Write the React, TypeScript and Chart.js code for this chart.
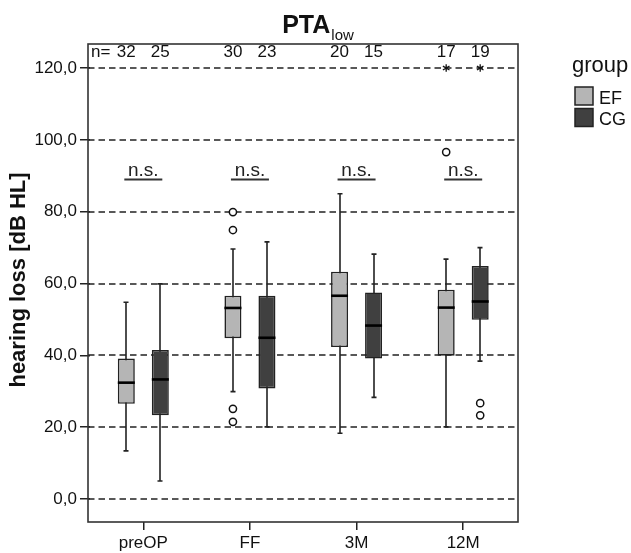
import React, { useEffect, useRef } from "react";
import { Chart, registerables } from "chart.js";

Chart.register(...registerables);

// ---------- data ----------
const categories = ["preOP", "FF", "3M", "12M"];
const groups = ["EF", "CG"];

const efMin = [13.4, 29.9, 18.3, 20.1];
const efQ1 = [26.5, 44.8, 42.3, 39.9];
const efMedian = [32.4, 53.2, 56.6, 53.3];
const efQ3 = [39.1, 56.6, 63.3, 58.3];
const efMax = [54.8, 69.6, 85.0, 66.8];
const efOutliers: number[][] = [[], [79.9, 74.9, 25.1, 21.5], [], [96.6]];
const efExtremes: number[][] = [[], [], [], [120]];

const cgMin = [5.0, 20.1, 28.3, 38.4];
const cgQ1 = [23.3, 30.8, 39.1, 49.9];
const cgMedian = [33.3, 44.9, 48.3, 55.0];
const cgQ3 = [41.5, 56.6, 57.5, 64.9];
const cgMax = [59.9, 71.6, 68.2, 70.0];
const cgOutliers: number[][] = [[], [], [], [26.7, 23.3]];
const cgExtremes: number[][] = [[], [], [], [120]];

const nEF = [32, 30, 20, 17];
const nCG = [25, 23, 15, 19];
const significance = ["n.s.", "n.s.", "n.s.", "n.s."];
const significanceLevel = 89;

const yMin = -6.4;
const yMax = 126.7;
const yStep = 20;

// ---------- style ----------
const FONT = "'Liberation Sans', Arial, Helvetica, sans-serif";
const groupColors = ["#b5b5b5", "#404040"];
const lineColor = "#222222";
const FRAME_LEFT = 88;
const FRAME_RIGHT = 518;

const stats = [
  { min: efMin, q1: efQ1, med: efMedian, q3: efQ3, max: efMax, out: efOutliers, ext: efExtremes },
  { min: cgMin, q1: cgQ1, med: cgMedian, q3: cgQ3, max: cgMax, out: cgOutliers, ext: cgExtremes },
];
const counts = [nEF, nCG];

const boxPlugin = {
  id: "boxExtras",
  beforeDatasetsDraw(chart: any) {
    const { ctx, scales } = chart;
    const y = scales.y;
    ctx.save();
    // dashed grid
    ctx.strokeStyle = lineColor;
    ctx.lineWidth = 1.5;
    ctx.setLineDash([6.5, 4]);
    y.ticks.forEach((t: any) => {
      const py = Math.round(y.getPixelForValue(t.value));
      ctx.beginPath();
      ctx.moveTo(FRAME_LEFT, py);
      ctx.lineTo(FRAME_RIGHT, py);
      ctx.stroke();
    });
    ctx.setLineDash([]);
    // whiskers
    stats.forEach((s, d) => {
      const meta = chart.getDatasetMeta(d);
      meta.data.forEach((el: any, i: number) => {
        const x = Math.round(el.x);
        const yTop = y.getPixelForValue(s.max[i]);
        const yBot = y.getPixelForValue(s.min[i]);
        ctx.strokeStyle = lineColor;
        ctx.lineWidth = 1.6;
        ctx.beginPath();
        ctx.moveTo(x, yTop);
        ctx.lineTo(x, yBot);
        ctx.moveTo(x - 2.5, yTop);
        ctx.lineTo(x + 2.5, yTop);
        ctx.moveTo(x - 2.5, yBot);
        ctx.lineTo(x + 2.5, yBot);
        ctx.stroke();
      });
    });
    ctx.restore();
  },
  afterDatasetsDraw(chart: any) {
    const { ctx, chartArea: a, scales } = chart;
    const y = scales.y;
    ctx.save();
    stats.forEach((s, d) => {
      const meta = chart.getDatasetMeta(d);
      meta.data.forEach((el: any, i: number) => {
        const x = el.x;
        const w = el.width;
        // median
        const pm = y.getPixelForValue(s.med[i]);
        ctx.strokeStyle = "#000";
        ctx.lineWidth = 2.6;
        ctx.beginPath();
        ctx.moveTo(x - w / 2, pm);
        ctx.lineTo(x + w / 2, pm);
        ctx.stroke();
        // outliers
        ctx.lineWidth = 1.5;
        ctx.strokeStyle = "#111";
        s.out[i].forEach((v) => {
          ctx.beginPath();
          ctx.arc(x, y.getPixelForValue(v), 3.6, 0, Math.PI * 2);
          ctx.fillStyle = "#fff";
          ctx.fill();
          ctx.stroke();
        });
        // extremes (stars)
        s.ext[i].forEach((v) => {
          const py = y.getPixelForValue(v);
          const r = 3.8;
          ctx.lineWidth = 1.3;
          ctx.beginPath();
          for (let k = 0; k < 3; k++) {
            const ang = Math.PI / 2 + (k * Math.PI) / 3;
            ctx.moveTo(x + r * Math.cos(ang), py + r * Math.sin(ang));
            ctx.lineTo(x - r * Math.cos(ang), py - r * Math.sin(ang));
          }
          ctx.stroke();
        });
      });
    });
    // plot border
    ctx.strokeStyle = "#333";
    ctx.lineWidth = 1.6;
    ctx.strokeRect(FRAME_LEFT, a.top, FRAME_RIGHT - FRAME_LEFT, a.bottom - a.top);
    ctx.restore();
  },
  afterDraw(chart: any) {
    const { ctx, chartArea: a, scales, width } = chart;
    const y = scales.y;
    const xs = scales.x;
    ctx.save();
    ctx.fillStyle = "#111";
    // title
    ctx.textBaseline = "alphabetic";
    ctx.textAlign = "left";
    ctx.font = `bold 25px ${FONT}`;
    const wMain = ctx.measureText("PTA").width;
    ctx.font = `15px ${FONT}`;
    const wSub = ctx.measureText("low").width;
    const tx = width / 2 + 2 - (wMain + wSub) / 2;
    ctx.font = `bold 25px ${FONT}`;
    ctx.fillText("PTA", tx, 32.5);
    ctx.font = `15px ${FONT}`;
    ctx.fillText("low", tx + wMain + 1, 40);

    // y axis title
    ctx.save();
    ctx.translate(19, (a.top + a.bottom) / 2 - 3);
    ctx.rotate(-Math.PI / 2);
    ctx.font = `bold 22px ${FONT}`;
    ctx.textAlign = "center";
    ctx.textBaseline = "middle";
    ctx.fillText("hearing loss [dB HL]", 0, 0);
    ctx.restore();

    // legend
    const lx = FRAME_RIGHT;
    ctx.font = `22px ${FONT}`;
    ctx.textAlign = "left";
    ctx.fillText("group", lx + 54, 72);
    groups.forEach((g, k) => {
      const by = 87 + k * 21.5;
      ctx.fillStyle = groupColors[k];
      ctx.fillRect(lx + 57, by, 18, 18);
      ctx.strokeStyle = "#222";
      ctx.lineWidth = 1.5;
      ctx.strokeRect(lx + 57, by, 18, 18);
      ctx.fillStyle = "#111";
      ctx.font = `18px ${FONT}`;
      ctx.fillText(g, lx + 81, by + 16.5);
    });

    // n= counts
    ctx.font = `17px ${FONT}`;
    ctx.textAlign = "center";
    ctx.textBaseline = "alphabetic";
    counts.forEach((arr, d) => {
      const meta = chart.getDatasetMeta(d);
      meta.data.forEach((el: any, i: number) => {
        ctx.fillText(String(arr[i]), el.x, 57);
      });
    });
    ctx.textAlign = "left";
    ctx.fillText("n=", FRAME_LEFT + 3, 57);

    // significance
    const sy = y.getPixelForValue(significanceLevel);
    categories.forEach((c, i) => {
      const cx = xs.getPixelForValue(i);
      ctx.font = `19px ${FONT}`;
      ctx.textAlign = "center";
      ctx.fillStyle = "#222";
      ctx.fillText(significance[i], cx, sy - 3);
      ctx.strokeStyle = "#333";
      ctx.lineWidth = 2;
      ctx.beginPath();
      ctx.moveTo(cx - 19, sy);
      ctx.lineTo(cx + 19, sy);
      ctx.stroke();
    });
    ctx.restore();
  },
};

export default function App() {
  const canvasRef = useRef<HTMLCanvasElement | null>(null);

  useEffect(() => {
    if (!canvasRef.current) return;
    const chart = new Chart(canvasRef.current, {
      type: "bar",
      data: {
        labels: categories,
        datasets: stats.map((s, d) => ({
          label: groups[d],
          data: s.q1.map((q, i) => [q, s.q3[i]]) as any,
          backgroundColor: groupColors[d],
          borderColor: "#222",
          borderWidth: 1.6,
          borderSkipped: false,
          categoryPercentage: 0.638,
          barPercentage: 0.5,
        })),
      },
      options: {
        animation: false,
        responsive: false,
        maintainAspectRatio: false,
        layout: { padding: { left: 0, right: 114.5, top: 44, bottom: 0 } },
        plugins: {
          legend: { display: false },
          tooltip: { enabled: false },
          title: { display: false },
        },
        scales: {
          x: {
            type: "category",
            offset: true,
            border: { display: false },
            grid: {
              offset: false,
              drawOnChartArea: false,
              drawTicks: true,
              tickLength: 8,
              color: "#222",
              lineWidth: 1.5,
            },
            ticks: {
              font: { family: FONT, size: 17 },
              color: "#111",
              padding: 3,
              maxRotation: 0,
            },
            afterFit: (scale: any) => {
              scale.height = 31;
            },
          },
          y: {
            type: "linear",
            min: yMin,
            max: yMax,
            border: { display: false },
            grid: {
              drawOnChartArea: false,
              drawTicks: true,
              tickLength: 10,
              color: "#222",
              lineWidth: 1.5,
            },
            ticks: {
              stepSize: yStep,
              includeBounds: false,
              font: { family: FONT, size: 17 },
              color: "#111",
              padding: 3,
              callback: (v: any) => Number(v).toFixed(1).replace(".", ","),
            },
            afterFit: (scale: any) => {
              scale.width = 90;
            },
          },
        },
      },
      plugins: [boxPlugin],
    });
    return () => chart.destroy();
  }, []);

  return (
    <div style={{ position: "absolute", left: 0, top: 0, width: 631, height: 553, background: "#fff" }}>
      <canvas ref={canvasRef} width={631} height={553} style={{ display: "block" }} />
    </div>
  );
}
